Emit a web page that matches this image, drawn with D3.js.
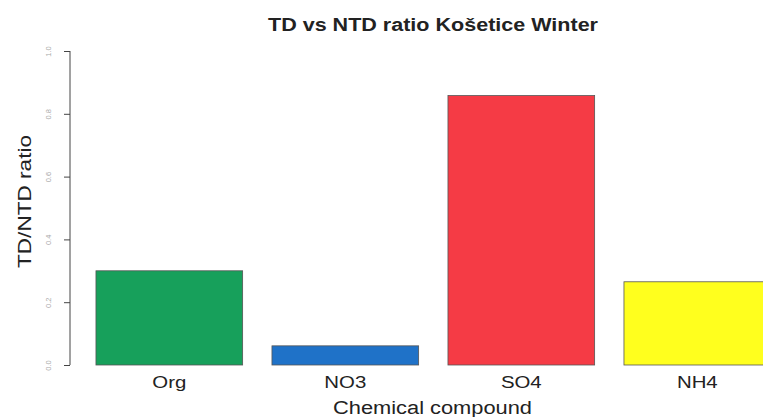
<!DOCTYPE html>
<html><head><meta charset="utf-8">
<script src="https://cdn.jsdelivr.net/npm/d3@7"></script>
<style>body{margin:0;background:#fff;} svg{display:block;}</style>
</head><body>
<svg id="c" width="763" height="417"></svg>
<script>
const categories = ["Org", "NO3", "SO4", "NH4"];
const ratios = [0.300, 0.061, 0.858, 0.265];
const barColors = ["#17a05b", "#1f72c8", "#f53b45", "#ffff1e"];
const yTicks = [0, 0.2, 0.4, 0.6, 0.8, 1.0];
const title = "TD vs NTD ratio Košetice Winter";
const xTitle = "Chemical compound";
const yTitle = "TD/NTD ratio";

const FONT = "Liberation Sans, Arial, sans-serif";
const svg = d3.select("#c");
const x = d3.scaleBand().domain(categories).range([81.3, 785.3]).paddingInner(1/6).paddingOuter(1/12);
const y = d3.scaleLinear().domain([0, 1]).range([365, 51]);

svg.selectAll("rect.bar").data(categories).enter().append("rect")
  .attr("class", "bar")
  .attr("x", d => x(d))
  .attr("width", x.bandwidth())
  .attr("y", (d, i) => y(ratios[i]))
  .attr("height", (d, i) => y(0) - y(ratios[i]))
  .attr("fill", (d, i) => barColors[i])
  .attr("stroke", "#555").attr("stroke-width", 0.8);

// y axis
const yAxis = d3.axisLeft(y).tickValues(yTicks).tickFormat(d3.format(".1f")).tickSize(6).tickSizeOuter(0);
const ga = svg.append("g").attr("transform", "translate(70,0)").call(yAxis);
ga.select(".domain").attr("stroke", "#444").attr("stroke-width", 1).attr("d", `M0,${y(0)}V${y(1)}`);
ga.selectAll(".tick line").attr("stroke", "#444");
ga.selectAll(".tick text")
  .attr("fill", "#aaa").attr("font-size", 7.5).attr("font-family", FONT)
  .attr("x", null).attr("dy", null)
  .attr("transform", "translate(-21,0) rotate(-90)")
  .attr("text-anchor", "middle").attr("dominant-baseline", "middle");

// x labels
svg.selectAll("text.xl").data(categories).enter().append("text")
  .attr("class", "xl")
  .attr("transform", d => `translate(${x(d) + x.bandwidth() / 2},388) scale(1.2,1)`)
  .attr("text-anchor", "middle")
  .attr("font-family", FONT)
  .attr("font-size", 17).attr("fill", "#222")
  .text(d => d);

svg.append("text").attr("x", 333).attr("y", 414)
  .attr("textLength", 199).attr("lengthAdjust", "spacingAndGlyphs")
  .attr("font-family", FONT).attr("font-size", 18).attr("fill", "#222")
  .text(xTitle);

svg.append("text").attr("transform", "translate(31,268) rotate(-90)")
  .attr("textLength", 133).attr("lengthAdjust", "spacingAndGlyphs")
  .attr("font-family", FONT).attr("font-size", 19).attr("fill", "#222")
  .text(yTitle);

svg.append("text").attr("x", 268).attr("y", 31)
  .attr("textLength", 330).attr("lengthAdjust", "spacingAndGlyphs")
  .attr("font-family", FONT).attr("font-size", 18).attr("font-weight", "bold").attr("fill", "#222")
  .text(title);
</script>
</body></html>
